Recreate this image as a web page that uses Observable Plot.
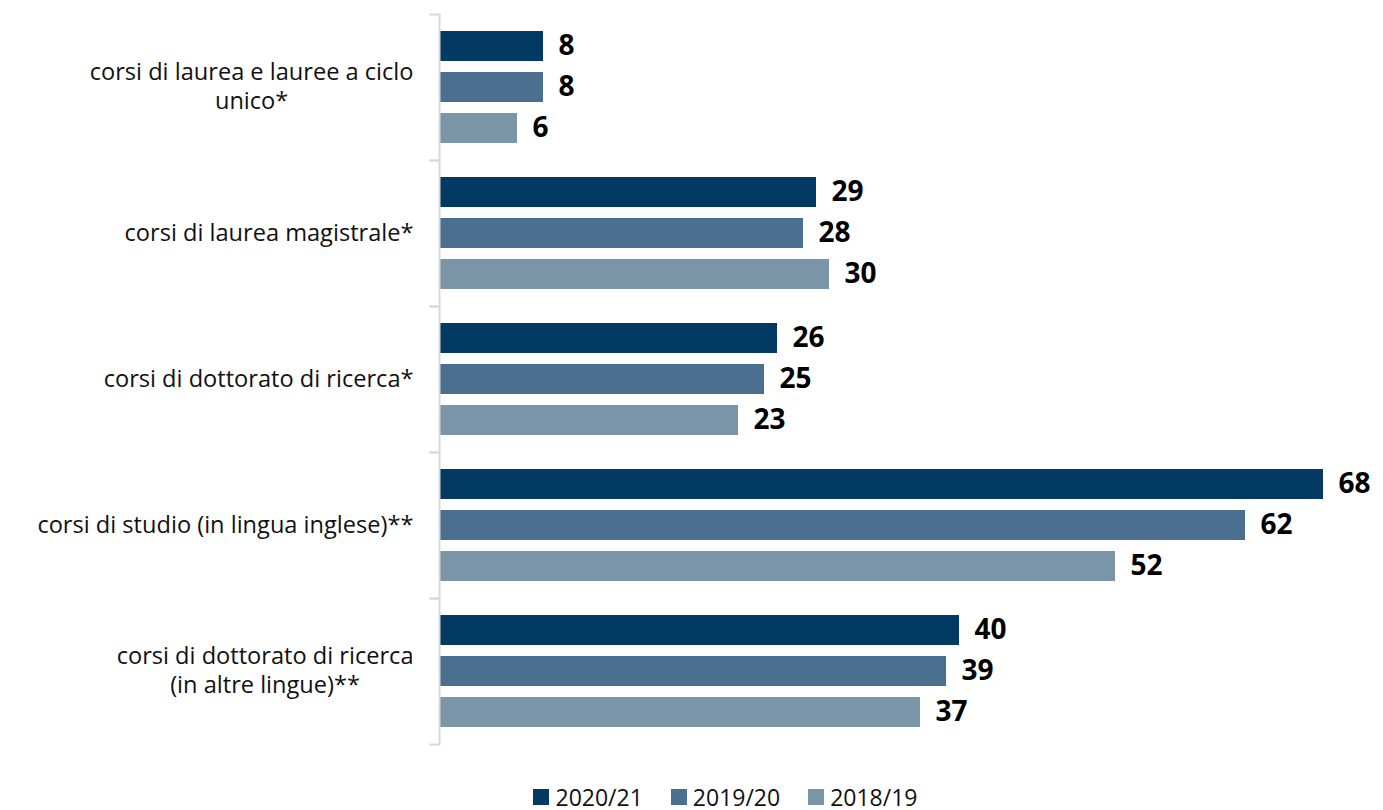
<!DOCTYPE html>
<html>
<head>
<meta charset="utf-8">
<script src="https://cdn.jsdelivr.net/npm/d3@7"></script>
<script src="https://cdn.jsdelivr.net/npm/@observablehq/plot@0.6"></script>
<style>
  body { margin: 0; background: #fff; font-family: "Open Sans", sans-serif; position: relative; width: 1383px; height: 810px; overflow: hidden; }
  #legend { position: absolute; top: 785px; left: 0; width: 1383px; height: 24px; line-height: 24px; display: flex; justify-content: center; gap: 28px; font-size: 23px; color: #111; padding-left: 68px; box-sizing: border-box; }
  #legend span.item { display: flex; align-items: center; }
  #legend span.sw { display: inline-block; width: 16px; height: 16px; margin-right: 6px; }
</style>
</head>
<body>
<div id="chart"></div>
<div id="legend"></div>
<script>
const categories = [
  "corsi di laurea e lauree a ciclo\nunico*",
  "corsi di laurea magistrale*",
  "corsi di dottorato di ricerca*",
  "corsi di studio (in lingua inglese)**",
  "corsi di dottorato di ricerca\n(in altre lingue)**"
];
const series = ["2020/21", "2019/20", "2018/19"];
const colors = ["#023a64", "#4a6f8f", "#7a94a8"];
const values2020 = [8, 29, 26, 68, 40];
const values2019 = [8, 28, 25, 62, 39];
const values2018 = [6, 30, 23, 52, 37];

const seriesValues = [values2020, values2019, values2018];
const data = [];
categories.forEach((c, i) => {
  series.forEach((s, j) => data.push({cat: c, series: s, value: seriesValues[j][i]}));
});

const W = 1383, ML = 439, MR = 8;
const chart = Plot.plot({
  width: W,
  height: 780,
  marginLeft: ML,
  marginRight: MR,
  marginTop: 12,
  marginBottom: 35,
  style: {fontFamily: "'Open Sans', sans-serif"},
  x: {domain: [0, 72], axis: null},
  y: {domain: series, paddingInner: 0.277, paddingOuter: 0.405, axis: null},
  fy: {domain: categories, padding: 0, axis: null},
  color: {domain: series, range: colors},
  marks: [
    Plot.barX(data, {fy: "cat", y: "series", x: "value", fill: "series"}),
    Plot.text(data, {fy: "cat", y: "series", x: "value", text: d => String(d.value), dx: 15, textAnchor: "start", fontWeight: "bold", fontSize: 28, fill: "#000"}),
    Plot.text(categories, {fy: d => d, x: 0, text: d => d, frameAnchor: "middle", textAnchor: "end", dx: -26, dy: -2, fontSize: 23.6, fill: "#111", lineHeight: 1.22}),
    Plot.ruleX(categories, {fy: d => d, x: 0, stroke: "#d9d9d9", strokeWidth: 2}),
    Plot.frame({anchor: "top", insetLeft: -9, insetRight: W - ML - MR, stroke: "#d9d9d9", strokeWidth: 2}),
    Plot.frame({anchor: "bottom", insetLeft: -9, insetRight: W - ML - MR, stroke: "#d9d9d9", strokeWidth: 2})
  ]
});
document.getElementById("chart").appendChild(chart);

// center multi-line category labels around their widest line
chart.querySelectorAll("text").forEach(t => {
  const spans = t.querySelectorAll("tspan");
  if (spans.length > 1) {
    let maxW = 0;
    spans.forEach(s => { maxW = Math.max(maxW, s.getComputedTextLength()); });
    t.setAttribute("text-anchor", "middle");
    spans.forEach(s => s.setAttribute("x", -maxW / 2));
  }
});

const legend = document.getElementById("legend");
series.forEach((s, j) => {
  const item = document.createElement("span");
  item.className = "item";
  const sw = document.createElement("span");
  sw.className = "sw";
  sw.style.background = colors[j];
  item.appendChild(sw);
  item.appendChild(document.createTextNode(s));
  legend.appendChild(item);
});
</script>
</body>
</html>
